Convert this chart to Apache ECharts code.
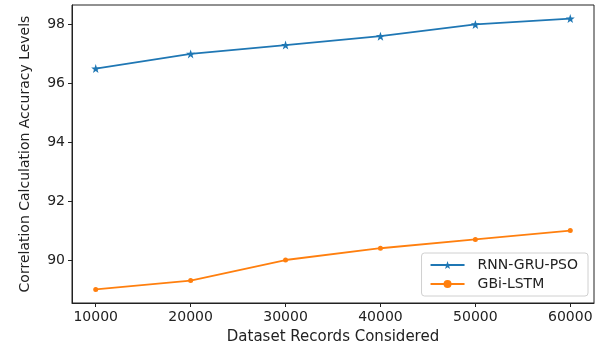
<!DOCTYPE html>
<html><head><meta charset="utf-8">
<script src="https://cdn.jsdelivr.net/npm/echarts@6/dist/echarts.min.js"></script>
<style>html,body{margin:0;padding:0;background:#fff}#c{width:603px;height:348px}</style>
</head><body><div id="c"></div>
<script>
const categories = [10000, 20000, 30000, 40000, 50000, 60000];
const rnnGruPso = [96.5, 97.0, 97.3, 97.6, 98.0, 98.2];
const gbiLstm = [89.0, 89.3, 90.0, 90.4, 90.7, 91.0];
const xTicks = [10000, 20000, 30000, 40000, 50000, 60000];
const yTicks = [90, 92, 94, 96, 98];
const seriesNames = ['RNN-GRU-PSO', 'GBi-LSTM'];

const chart = echarts.init(document.getElementById('c'), null, {renderer: 'canvas'});
const font = 'DejaVu Sans';
chart.setOption({
  animation: false,
  backgroundColor: '#fff',
  grid: {left: 72, right: 9, top: 5, bottom: 45, containLabel: false, outerBoundsMode: 'none', show: true, borderColor: '#222', borderWidth: 1, backgroundColor: 'transparent'},
  legend: {
    data: seriesNames.map(n => ({name: n})),
    orient: 'vertical', right: 15, bottom: 52,
    backgroundColor: '#fff', borderColor: '#d0d0d0', borderWidth: 1, borderRadius: 3,
    padding: [5, 10, 5, 8], itemGap: 5, itemWidth: 34, itemHeight: 10,
    textStyle: {fontFamily: font, fontSize: 14, color: '#222', padding: [0, 0, 0, 8]}
  },
  xAxis: {
    type: 'value', min: 7500, max: 62500,
    name: 'Dataset Records Considered', nameLocation: 'middle', nameGap: 27,
    nameTextStyle: {fontFamily: font, fontSize: 15, color: '#222'},
    axisLine: {show: true, lineStyle: {color: '#222'}},
    axisTick: {show: true, length: 4, customValues: xTicks, lineStyle: {color: '#222'}},
    axisLabel: {customValues: xTicks, formatter: v => String(v), fontFamily: font, fontSize: 14, color: '#222', margin: 7},
    splitLine: {show: false}
  },
  yAxis: {
    type: 'value', min: 88.54, max: 98.66,
    name: 'Correlation Calculation Accuracy Levels', nameLocation: 'middle', nameGap: 40,
    nameTextStyle: {fontFamily: font, fontSize: 14, color: '#222'},
    axisLine: {show: true, lineStyle: {color: '#222'}},
    axisTick: {show: true, length: 4, customValues: yTicks, lineStyle: {color: '#222'}},
    axisLabel: {customValues: yTicks, formatter: v => String(v), fontFamily: font, fontSize: 14, color: '#222', margin: 7},
    splitLine: {show: false}
  },
  series: [
    {name: seriesNames[0], type: 'line', data: categories.map((x, i) => [x, rnnGruPso[i]]),
     color: '#1f77b4', symbol: 'path://M0,-10 L2.35,-3.24 L9.51,-3.09 L3.8,1.24 L5.88,8.09 L0,4 L-5.88,8.09 L-3.8,1.24 L-9.51,-3.09 L-2.35,-3.24 Z',
     symbolSize: 9, showSymbol: true, lineStyle: {width: 1.8}},
    {name: seriesNames[1], type: 'line', data: categories.map((x, i) => [x, gbiLstm[i]]),
     color: '#ff7f0e', symbol: 'circle', symbolSize: 5, lineStyle: {width: 1.8}}
  ]
});
</script></body></html>
